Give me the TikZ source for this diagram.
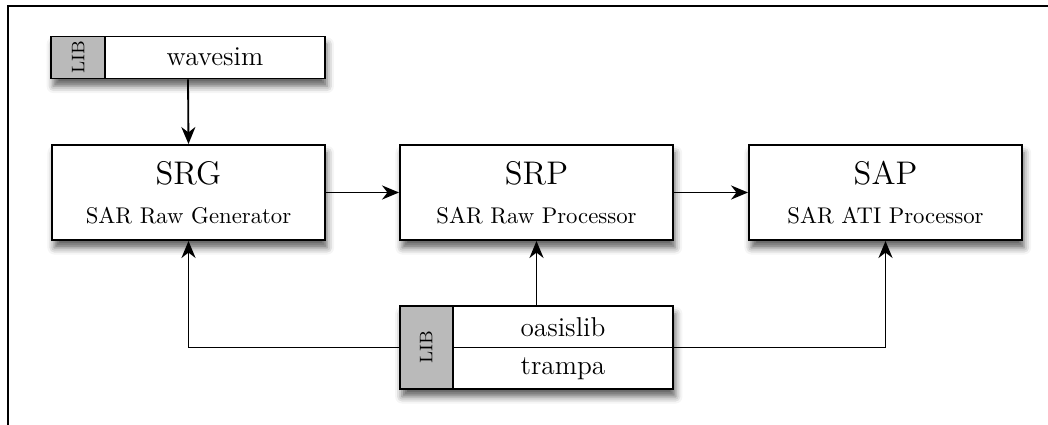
\documentclass[tikz,border=0pt]{standalone}
\usepackage{graphicx}
\usetikzlibrary{arrows.meta,shadows.blur}

\tikzset{
  softshadow/.style={blur shadow={shadow xshift=1pt, shadow yshift=-3.4pt, shadow blur radius=3pt, shadow opacity=62}},
  procbox/.style={draw, fill=white, line width=0.85pt, minimum width=120.1pt, minimum height=41.8pt,
    inner sep=0pt, align=center, font=\fontsize{10}{17.2}\selectfont, softshadow},
  libframe/.style={draw, fill=white, line width=0.85pt, minimum width=120.4pt, inner sep=0pt, softshadow},
  libtag/.style={draw, fill=black!27, line width=0.85pt, inner sep=0pt, anchor=west, font=\footnotesize},
  libname/.style={font=\large, inner sep=0pt},
  link/.style={-{Stealth[length=7.5pt,width=6.2pt,inset=2.4pt]}, line width=0.8pt},
}

\begin{document}
\begin{tikzpicture}[x=0.44pt, y=-0.44pt]

\useasboundingbox (0,0) rectangle (1048,425);
\draw[line width=1pt] (1048,6) -- (8,6) -- (8,425);

% processing chain
\node[procbox] (srg) at (188.5,192.5) {{\Large SRG}\\SAR Raw Generator};
\node[procbox] (srp) at (536.5,192.5) {{\Large SRP}\\SAR Raw Processor};
\node[procbox] (sap) at (885.5,192.5) {{\Large SAP}\\SAR ATI Processor};

% libraries
\node[libframe, minimum height=18.5pt] (wlib) at (188,57.5) {};
\node[libtag, minimum width=23.8pt, minimum height=18.5pt] (wtag) at (wlib.west) {\rotatebox{90}{LIB}};
\node[libname] (wavesim) at (215,57) {wavesim};

\node[libframe, minimum height=36.5pt] (libs) at (536.5,347.5) {};
\node[libtag, minimum width=23.3pt, minimum height=36.5pt] (ltag) at (libs.west) {\rotatebox{90}{LIB}};
\draw[line width=0.85pt] (ltag.east) -- (libs.east);
\node[libname] (oasislib) at (563,327) {oasislib};
\node[libname] (trampa) at (563,369) {trampa};

\draw[link] (wlib.south) -- (srg.north);
\draw[link] (srg) -- (srp);
\draw[link] (srp) -- (sap);
\draw[link] (libs.north) -- (srp.south);
\draw[link] (libs.west) -| (srg.south);
\draw[link] (libs.east) -| (sap.south);

\end{tikzpicture}
\end{document}
